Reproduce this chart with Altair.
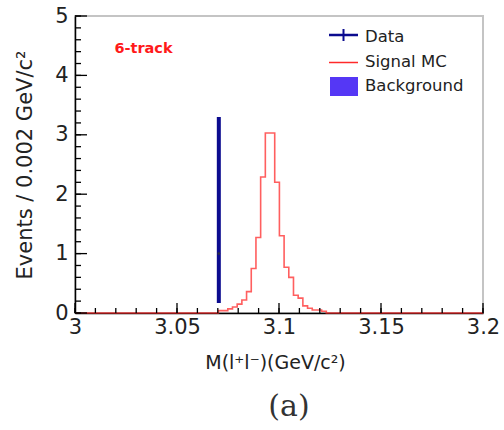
import altair as alt
import numpy as np
import pandas as pd

# ---------------- data ----------------
x_domain = [3.0, 3.2]
y_domain = [0, 5]

x_label_values = [3.0, 3.05, 3.1, 3.15, 3.2]
y_label_values = [0, 1, 2, 3, 4, 5]
x_minor_ticks = [round(3.0 + 0.01 * i, 3) for i in range(21)]
y_minor_ticks = [round(0.2 * i, 2) for i in range(26)]

# Signal MC histogram (left bin edges and contents)
mc_left_edges = [3.0703, 3.0726, 3.0749, 3.0772, 3.0795, 3.0818, 3.0841, 3.0864,
                 3.0887, 3.0910, 3.0933, 3.0956, 3.0979, 3.1002, 3.1025, 3.1048,
                 3.1071, 3.1094, 3.1117, 3.1140, 3.1163, 3.1186, 3.1209]
mc_values = [0.04, 0.04, 0.07, 0.10, 0.15, 0.22, 0.36, 0.75, 1.27, 2.29, 3.03, 3.03,
             2.20, 1.30, 0.77, 0.60, 0.30, 0.25, 0.12, 0.08, 0.05, 0.05, 0.03]
mc_bin_width = 0.0023

# Data (one event with asymmetric Poisson error)
data_x = [3.0705]
data_y = [1.0]
data_low = [0.17]
data_high = [3.30]

legend_labels = ["Data", "Signal MC", "Background"]
tag_text = "6-track"
caption_text = "(a)"

FONT = "DejaVu Sans"
TXT = "#222222"
NAVY = "#0b0b8f"
RED = "#ff2a2a"

# ---------------- frames ----------------
step_x = [x_domain[0]] + mc_left_edges + [mc_left_edges[-1] + mc_bin_width, x_domain[1]]
step_y = [0.0] + mc_values + [0.0, 0.0]
hist_df = pd.DataFrame({"x": step_x, "y": step_y})
data_df = pd.DataFrame({"x": data_x, "y": data_y, "lo": data_low, "hi": data_high})

x_scale = alt.Scale(domain=x_domain, nice=False, zero=False)
y_scale = alt.Scale(domain=y_domain, nice=False)

hist = alt.Chart(hist_df).mark_line(
    interpolate="step-after", color=RED, strokeWidth=1.6, opacity=0.75
).encode(
    x=alt.X("x:Q", scale=x_scale,
            axis=alt.Axis(values=x_label_values, format="~g", title="M(l⁺l⁻)(GeV/c²)",
                          titleX=200, titleY=49)),
    y=alt.Y("y:Q", scale=y_scale,
            axis=alt.Axis(values=y_label_values, format="d", title="Events / 0.002 GeV/c²",
                          titleX=-50, titleY=148.5, titleAngle=270)),
)

err = alt.Chart(data_df).mark_rule(color=NAVY, strokeWidth=4).encode(
    x="x:Q", y="lo:Q", y2="hi:Q"
)
pt = alt.Chart(data_df).mark_point(filled=True, size=8, color="#333333", opacity=0.8).encode(
    x="x:Q", y="y:Q"
)

# inner ticks (ROOT style)
ymaj = alt.Chart(pd.DataFrame({"y": y_label_values})).mark_rule(color="black", strokeWidth=1.3).encode(
    y="y:Q", x=alt.value(0), x2=alt.value(12))
ymin = alt.Chart(pd.DataFrame({"y": y_minor_ticks})).mark_rule(color="black", strokeWidth=1.3).encode(
    y="y:Q", x=alt.value(0), x2=alt.value(6))
xmaj = alt.Chart(pd.DataFrame({"x": x_label_values})).mark_rule(color="black", strokeWidth=1.3).encode(
    x="x:Q", y=alt.value(297), y2=alt.value(287))
xmin = alt.Chart(pd.DataFrame({"x": x_minor_ticks})).mark_rule(color="black", strokeWidth=1.3).encode(
    x="x:Q", y=alt.value(297), y2=alt.value(292))

one = pd.DataFrame({"k": [0]})

# legend
leg_data_h = alt.Chart(one).mark_rule(color=NAVY, strokeWidth=2.5).encode(
    x=alt.value(254), x2=alt.value(283), y=alt.value(19))
leg_data_v = alt.Chart(one).mark_rule(color=NAVY, strokeWidth=2).encode(
    x=alt.value(268.5), y=alt.value(13), y2=alt.value(25))
leg_sig = alt.Chart(one).mark_rule(color=RED, strokeWidth=1.5).encode(
    x=alt.value(254), x2=alt.value(283), y=alt.value(46.5))
leg_bkg = alt.Chart(one).mark_rect(color="#5537f5").encode(
    x=alt.value(255), x2=alt.value(283), y=alt.value(61), y2=alt.value(80))

leg_pos = [21, 45.5, 70]
leg_texts = [
    alt.Chart(pd.DataFrame({"t": [lab]})).mark_text(
        align="left", baseline="middle", font=FONT, fontSize=16.5, color=TXT
    ).encode(text="t:N", x=alt.value(290), y=alt.value(yy))
    for lab, yy in zip(legend_labels, leg_pos)
]

tag = alt.Chart(pd.DataFrame({"t": [tag_text]})).mark_text(
    align="center", baseline="middle", font=FONT, fontSize=14.5, fontWeight="bold", color="#ff1a1a"
).encode(text="t:N", x=alt.value(68.5), y=alt.value(33))

caption = alt.Chart(pd.DataFrame({"t": [caption_text]})).mark_text(
    align="center", baseline="middle", font="DejaVu Serif", fontSize=30, color="#333333"
).encode(text="t:N", x=alt.value(214), y=alt.value(391))

chart = alt.layer(
    hist, err, pt, ymaj, ymin, xmaj, xmin,
    leg_data_h, leg_data_v, leg_sig, leg_bkg, *leg_texts, tag, caption
).properties(
    width=408, height=297,
    autosize=alt.AutoSizeParams(type="none"),
    padding={"left": 75, "top": 16, "right": 21, "bottom": 117},
).configure_view(
    stroke="#c4c4c4", strokeWidth=2
).configure_axis(
    tickSize=0, grid=False, domainColor="black", domainWidth=1.5,
    labelFont=FONT, labelFontSize=21, labelColor=TXT, labelOverlap=False,
    labelFlush=False, titleFont=FONT, titleFontWeight="normal", titleColor=TXT,
    zindex=1,
).configure_axisX(
    labelPadding=3, titleFontSize=19, titleBaseline="middle",
).configure_axisY(
    labelPadding=7, titleFontSize=21, titleAlign="center", titleBaseline="middle",
)

chart.save("out.html", embed_options={"renderer": "svg", "actions": False})
